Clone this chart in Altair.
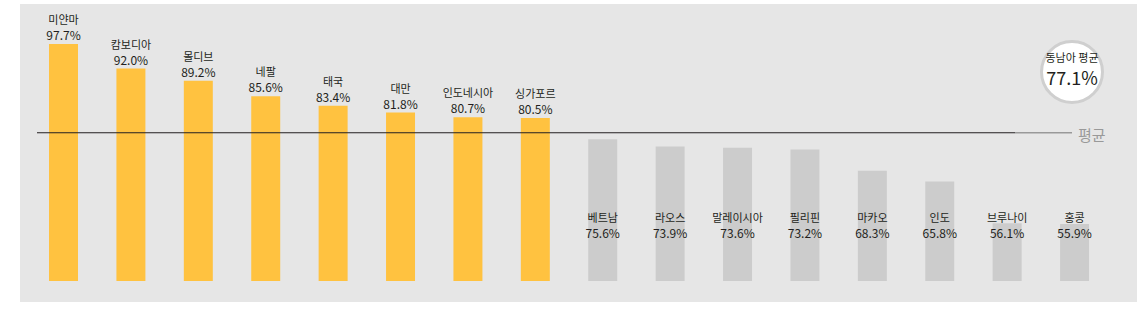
import altair as alt
import pandas as pd

countries = ["미얀마", "캄보디아", "몰디브", "네팔", "태국", "대만", "인도네시아", "싱가포르",
             "베트남", "라오스", "말레이시아", "필리핀", "마카오", "인도", "브루나이", "홍콩"]
values = [97.7, 92.0, 89.2, 85.6, 83.4, 81.8, 80.7, 80.5,
          75.6, 73.9, 73.6, 73.2, 68.3, 65.8, 56.1, 55.9]
average = 77.1
avg_title = "동남아 평균"
avg_line_label = "평균"

FONT = "Noto Sans CJK KR"
ORANGE = "#FFC240"
GRAY = "#CCCCCC"
BG = "#E6E6E6"

df = pd.DataFrame({"country": countries, "value": values})
df["label"] = [f"{v:.1f}%" for v in values]
df["above"] = [v > average for v in values]

x_enc = alt.X("country:N", sort=None, axis=None,
              scale=alt.Scale(paddingInner=0.57, paddingOuter=0.571, align=0.377, round=False))
y_scale = alt.Scale(domain=[37.8, 107.0], zero=False, nice=False)

base = alt.Chart(df)

bars = base.mark_bar().encode(
    x=x_enc,
    y=alt.Y("value:Q", scale=y_scale, axis=None),
    y2=alt.datum(42.7),
    color=alt.Color("above:N", scale=alt.Scale(domain=[True, False], range=[ORANGE, GRAY]), legend=None),
)

above = base.transform_filter("datum.above")
below = base.transform_filter("!datum.above")

name_above = above.mark_text(font=FONT, fontSize=11, dy=-23, color="#231F20", baseline="middle").encode(
    x=x_enc, y=alt.Y("value:Q", scale=y_scale), text="country:N")
val_above = above.mark_text(font=FONT, fontSize=12, dy=-8, color="#231F20", baseline="middle").encode(
    x=x_enc, y=alt.Y("value:Q", scale=y_scale), text="label:N")

name_below = below.mark_text(font=FONT, fontSize=11, color="#231F20", baseline="middle").encode(
    x=x_enc, y=alt.value(215), text="country:N")
val_below = below.mark_text(font=FONT, fontSize=12, color="#231F20", baseline="middle").encode(
    x=x_enc, y=alt.value(230), text="label:N")

one = alt.Chart(pd.DataFrame({"avg": [average], "title": [avg_title],
                              "lab": [f"{average:.1f}%"], "ll": [avg_line_label]}))

avg_black = one.mark_rule(color="#231F20", strokeWidth=1).encode(
    y=alt.Y("avg:Q", scale=y_scale), x=alt.value(17), x2=alt.value(995))
avg_gray = one.mark_rule(color="#999999", strokeWidth=1.5).encode(
    y=alt.Y("avg:Q", scale=y_scale), x=alt.value(995), x2=alt.value(1052))
avg_text = one.mark_text(font=FONT, fontSize=15, color="#999999", align="left", baseline="middle", dx=6, dy=3).encode(
    y=alt.Y("avg:Q", scale=y_scale), x=alt.value(1052), text="ll:N")

circle = one.mark_point(shape="circle", size=3720, fill="white", fillOpacity=1,
                        stroke="#CFCFCF", strokeWidth=3, opacity=1).encode(
    x=alt.value(1052), y=alt.value(68))
circ_title = one.mark_text(font=FONT, fontSize=11, color="#231F20", baseline="middle").encode(
    x=alt.value(1052), y=alt.value(55), text="title:N")
circ_val = one.mark_text(font=FONT, fontSize=18, color="#231F20", baseline="middle").encode(
    x=alt.value(1052), y=alt.value(76), text="lab:N")

chart = alt.layer(
    bars, avg_black, avg_gray, avg_text, name_above, val_above, name_below, val_below,
    circle, circ_title, circ_val
).properties(
    width=1117, height=298,
    padding={"left": 20, "top": 4, "right": 7, "bottom": 7},
    autosize=alt.AutoSizeParams(type="none"),
    background="white",
).configure_view(fill=BG, strokeWidth=0)

chart.save("out.html", embed_options={"renderer": "svg", "actions": False})
